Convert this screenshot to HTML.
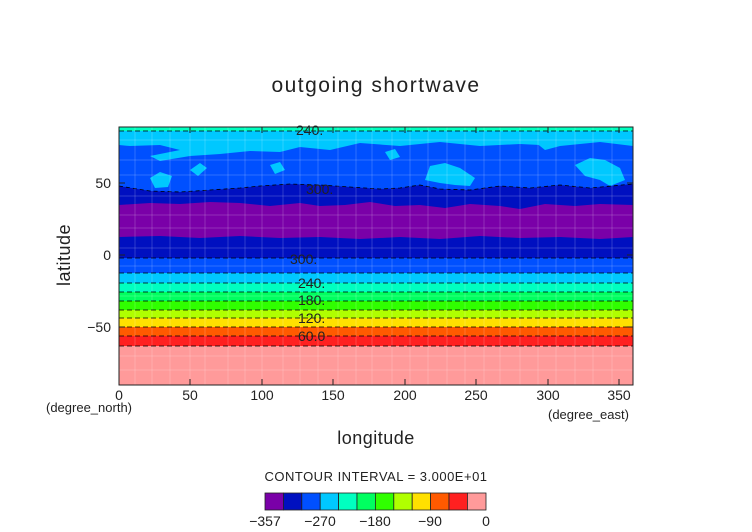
<!DOCTYPE html>
<html><head><meta charset="utf-8"><style>
html,body{margin:0;padding:0;background:#fff;}
svg{display:block;}
text{font-family:"Liberation Sans",sans-serif;fill:#222;}
</style></head><body>
<svg width="752" height="532" viewBox="0 0 752 532" xmlns="http://www.w3.org/2000/svg">
<text x="376" y="92" font-size="21" text-anchor="middle" letter-spacing="1.5" fill="#444">outgoing shortwave</text>
<defs><clipPath id="c"><rect x="119" y="127" width="514" height="258"/></clipPath></defs>
<g clip-path="url(#c)">
<rect x="119" y="127" width="514" height="5" fill="#00ffc0"/>
<rect x="119" y="131" width="514" height="75" fill="#0050ff"/>
<path d="M119,131 L633,131 L633,146 L600,142 L560,146 L520,144 L480,146 L440,142 L400,146 L360,143 L330,150 L300,147 L280,152 L250,151 L220,154 L190,156 L160,161 L150,156 L180,150 L160,145 L130,146 L119,145 Z" fill="#00c8ff"/>
<path d="M430,166 L445,163 L460,168 L475,178 L470,186 L455,185 L440,183 L425,180 Z" fill="#00c8ff"/>
<path d="M575,165 L590,158 L605,160 L620,168 L625,180 L610,186 L600,180 L585,176 Z" fill="#00c8ff"/>
<path d="M150,178 L160,172 L172,176 L168,187 L155,188 Z" fill="#00c8ff"/>
<path d="M190,170 L200,163 L207,168 L198,176 Z" fill="#00c8ff"/>
<path d="M270,165 L280,162 L285,170 L275,174 Z" fill="#00c8ff"/>
<path d="M385,152 L395,149 L400,157 L390,160 Z" fill="#00c8ff"/>
<path d="M535,142 L555,139 L560,146 L545,150 Z" fill="#00c8ff"/>
<path d="M119,186 L150,191 L180,192 L210,190 L240,188 L260,186 L290,184 L320,185 L350,187 L380,189 L400,188 L420,185 L440,189 L470,190 L500,186 L530,188 L560,185 L590,188 L633,184 L633,260 L119,260 Z" fill="#0010c0" stroke="#000" stroke-width="0.8" stroke-dasharray="4,3"/>
<path d="M119,205 L150,203 L180,204 L210,202 L240,203 L270,206 L300,203 L320,206 L345,205 L370,202 L395,206 L420,205 L445,208 L470,204 L500,206 L520,209 L545,204 L575,206 L600,204 L633,205 L633,237 L600,239 L560,237 L520,238 L480,236 L440,239 L400,237 L360,239 L320,237 L280,238 L240,236 L200,238 L160,236 L119,237 Z" fill="#7a00a8"/>
<rect x="119" y="258" width="514" height="16" fill="#0050ff"/>
<rect x="119" y="273" width="514" height="11" fill="#00c8ff"/>
<rect x="119" y="283" width="514" height="10" fill="#00ffc0"/>
<rect x="119" y="292" width="514" height="10" fill="#00ff60"/>
<rect x="119" y="301" width="514" height="10" fill="#30ff00"/>
<rect x="119" y="310" width="514" height="9" fill="#b0ff00"/>
<rect x="119" y="318" width="514" height="10" fill="#ffe000"/>
<rect x="119" y="327" width="514" height="10" fill="#ff5a00"/>
<rect x="119" y="336" width="514" height="11" fill="#ff2020"/>
<rect x="119" y="346" width="514" height="40" fill="#ff9a9a"/>
<g stroke="#fff" stroke-opacity="0.18" stroke-width="1">
<path d="M135,127V385M152,127V385M170,127V385M190,127V385M205,127V385M228,127V385M245,127V385M262,127V385M283,127V385M300,127V385M318,127V385M338,127V385M356,127V385M372,127V385M392,127V385M410,127V385M428,127V385M447,127V385M465,127V385M484,127V385M500,127V385M520,127V385M538,127V385M556,127V385M575,127V385M593,127V385M612,127V385"/>
<path d="M119,140H633M119,160H633M119,175H633M119,196H633M119,215H633M119,228H633M119,248H633M119,266H633M119,296H633M119,356H633M119,370H633"/>
</g>
<g stroke="#000" stroke-width="0.8" stroke-dasharray="5,3" fill="none">
<path d="M119,131H633M119,258H633M119,273H633M119,283H633M119,292H633M119,301H633M119,310H633M119,318H633M119,327H633M119,336H633M119,346H633"/>
</g>
</g>
<g font-size="14" fill="#111">
<text x="296" y="135">240.</text>
<text x="306" y="194">300.</text>
<text x="290" y="264">300.</text>
<text x="298" y="288">240.</text>
<text x="298" y="305">180.</text>
<text x="298" y="323">120.</text>
<text x="298" y="341">60.0</text>
</g>
<rect x="119" y="127" width="514" height="258" fill="none" stroke="#222" stroke-width="1"/>
<g stroke="#222" stroke-width="1">
<path d="M119,385v-6M190,385v-6M262,385v-6M333,385v-6M405,385v-6M476,385v-6M548,385v-6M619,385v-6"/>
<path d="M119,127v6M190,127v6M262,127v6M333,127v6M405,127v6M476,127v6M548,127v6M619,127v6"/>
<path d="M119,183h6M119,255h6M119,327h6M633,183h-6M633,255h-6M633,327h-6"/>
</g>
<g font-size="14" fill="#333">
<text x="119" y="400" text-anchor="middle">0</text>
<text x="190" y="400" text-anchor="middle">50</text>
<text x="262" y="400" text-anchor="middle">100</text>
<text x="333" y="400" text-anchor="middle">150</text>
<text x="405" y="400" text-anchor="middle">200</text>
<text x="476" y="400" text-anchor="middle">250</text>
<text x="548" y="400" text-anchor="middle">300</text>
<text x="619" y="400" text-anchor="middle">350</text>
<text x="111" y="188" text-anchor="end">50</text>
<text x="111" y="260" text-anchor="end">0</text>
<text x="111" y="332" text-anchor="end">−50</text>
</g>
<text x="46" y="412" font-size="13" fill="#333" font-family="Liberation Mono, monospace">(degree_north)</text>
<text x="548" y="419" font-size="13" fill="#333" font-family="Liberation Mono, monospace">(degree_east)</text>
<text x="376" y="444" font-size="18" text-anchor="middle" fill="#444" letter-spacing="0.5">longitude</text>
<text transform="translate(70,255) rotate(-90)" font-size="18" text-anchor="middle" fill="#444" letter-spacing="0.5">latitude</text>
<text x="376" y="481" font-size="13" text-anchor="middle" fill="#333" letter-spacing="0.5">CONTOUR INTERVAL = 3.000E+01</text>
<g stroke="#222" stroke-width="0.8">
<rect x="265" y="493" width="18.4" height="17" fill="#7a00a8"/>
<rect x="283.4" y="493" width="18.4" height="17" fill="#0010c0"/>
<rect x="301.8" y="493" width="18.4" height="17" fill="#0050ff"/>
<rect x="320.2" y="493" width="18.4" height="17" fill="#00c8ff"/>
<rect x="338.6" y="493" width="18.4" height="17" fill="#00ffc0"/>
<rect x="357" y="493" width="18.4" height="17" fill="#00ff60"/>
<rect x="375.4" y="493" width="18.4" height="17" fill="#30ff00"/>
<rect x="393.8" y="493" width="18.4" height="17" fill="#b0ff00"/>
<rect x="412.2" y="493" width="18.4" height="17" fill="#ffe000"/>
<rect x="430.6" y="493" width="18.4" height="17" fill="#ff5a00"/>
<rect x="449" y="493" width="18.4" height="17" fill="#ff2020"/>
<rect x="467.4" y="493" width="18.6" height="17" fill="#ff9a9a"/>
</g>
<g font-size="14" fill="#333" text-anchor="middle">
<text x="265" y="526">−357</text>
<text x="320" y="526">−270</text>
<text x="375" y="526">−180</text>
<text x="430" y="526">−90</text>
<text x="486" y="526">0</text>
</g>
</svg>
</body></html>
